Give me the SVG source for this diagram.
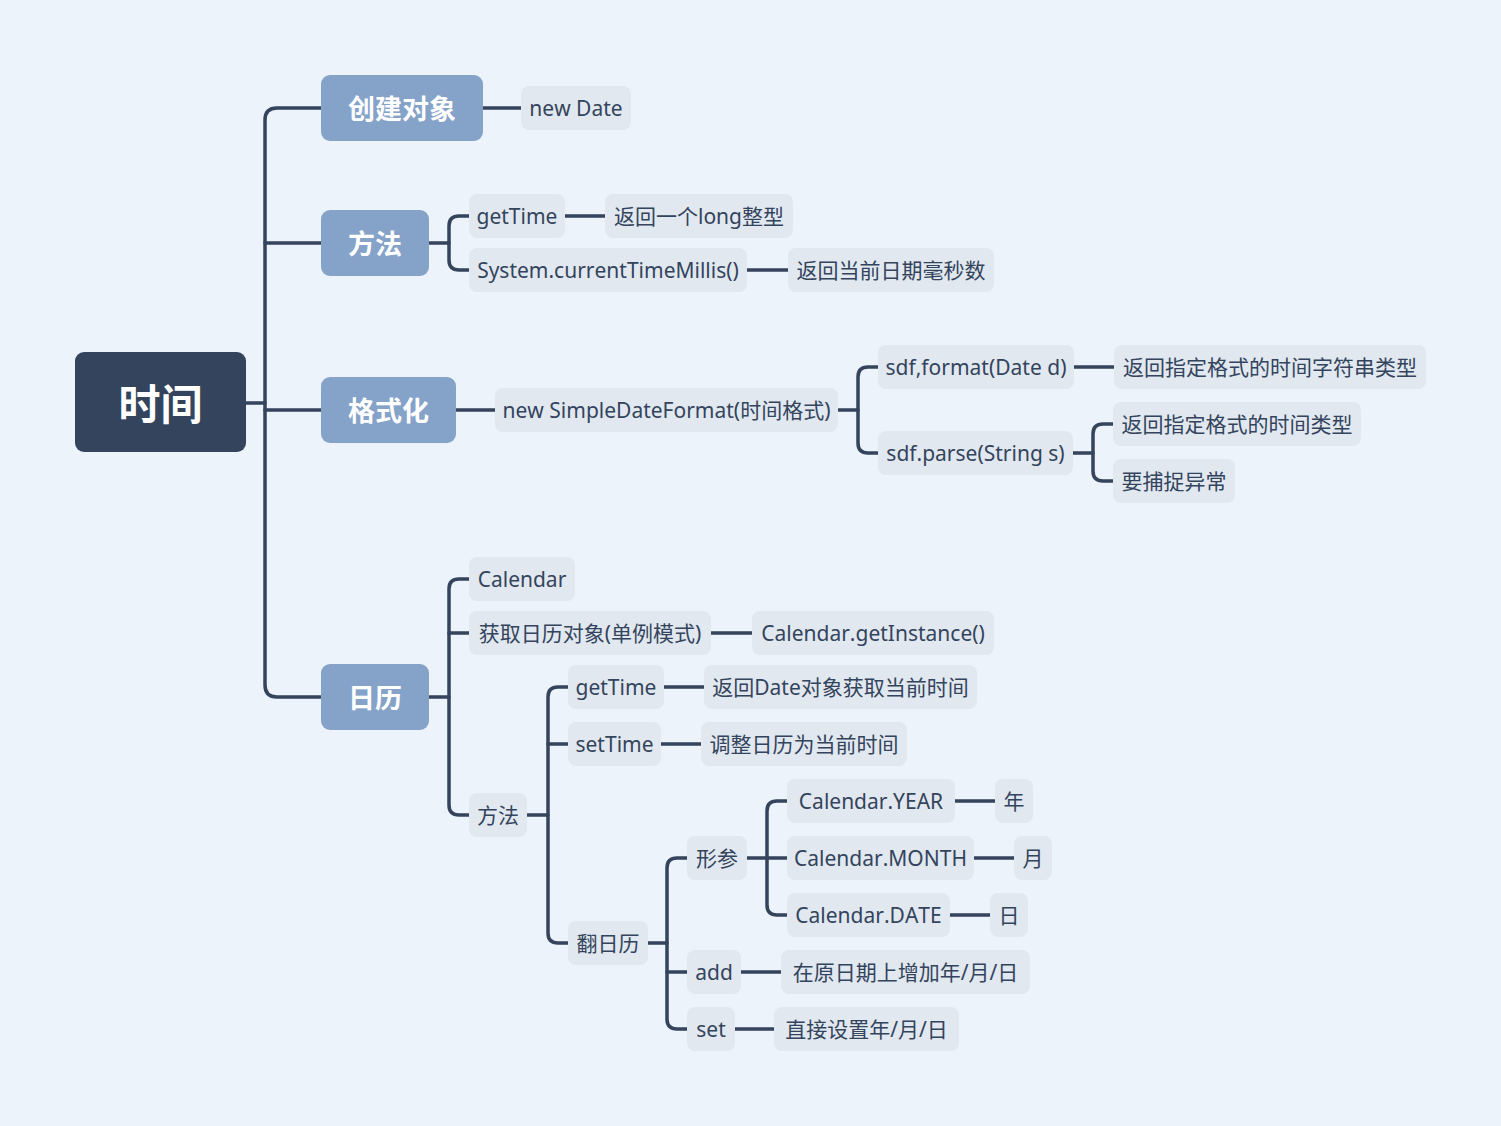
<svg xmlns="http://www.w3.org/2000/svg" width="1501" height="1126" viewBox="0 0 1501 1126">
<style>
.bg{fill:#EDF3FA}
.root rect{fill:#34445C}
.root text{fill:#FFFFFF;font:bold 42px "Noto Sans","Noto Sans CJK SC",sans-serif}
.l1 rect{fill:#85A2C9}
.l1 text{fill:#FFFFFF;font:bold 27px "Noto Sans","Noto Sans CJK SC",sans-serif}
.leaf rect{fill:#E1E8F0}
.leaf text{fill:#34445C;font:21px "Noto Sans","Noto Sans CJK SC",sans-serif;font-kerning:none}
text{text-anchor:middle;dominant-baseline:central}
#connectors path{fill:none;stroke:#34445C;stroke-width:3.5;stroke-linecap:round}
</style>
<rect class="bg" x="0" y="0" width="1501" height="1126"/>
<g id="connectors">
<path d="M246,403 H265"/>
<path d="M321,108 H277 Q265,108 265,120 V685 Q265,697 277,697 H321"/>
<path d="M265,243 H321"/>
<path d="M265,410 H321"/>
<path d="M483,108 H521"/>
<path d="M429,243 H449"/>
<path d="M469,216 H459 Q449,216 449,226 V260 Q449,270 459,270 H469"/>
<path d="M565,216 H605"/>
<path d="M747,270 H788"/>
<path d="M456,410 H495"/>
<path d="M838,410 H858"/>
<path d="M878,367 H868 Q858,367 858,377 V443 Q858,453 868,453 H878"/>
<path d="M1074,367 H1114"/>
<path d="M1073,453 H1093"/>
<path d="M1113,424 H1103 Q1093,424 1093,434 V471 Q1093,481 1103,481 H1113"/>
<path d="M429,697 H449"/>
<path d="M469,579 H459 Q449,579 449,589 V805 Q449,815 459,815 H469"/>
<path d="M449,633 H469"/>
<path d="M711,633 H752"/>
<path d="M527,815 H548"/>
<path d="M568,687 H558 Q548,687 548,697 V933 Q548,943 558,943 H568"/>
<path d="M548,744 H568"/>
<path d="M664,687 H704"/>
<path d="M661,744 H701"/>
<path d="M648,943 H667"/>
<path d="M687,858 H677 Q667,858 667,868 V1019 Q667,1029 677,1029 H687"/>
<path d="M667,972 H687"/>
<path d="M747,858 H787"/>
<path d="M787,801 H777 Q767,801 767,811 V905 Q767,915 777,915 H787"/>
<path d="M955,801 H995"/>
<path d="M974,858 H1014"/>
<path d="M950,915 H990"/>
<path d="M741,972 H781"/>
<path d="M735,1029 H774"/>
</g>
<g id="n-root" class="root"><rect x="75" y="352" width="171" height="100" rx="9"/><text x="160.5" y="403">时间</text></g>
<g id="n-create" class="l1"><rect x="321" y="75" width="162" height="66" rx="9"/><text x="402" y="108">创建对象</text></g>
<g id="n-method" class="l1"><rect x="321" y="210" width="108" height="66" rx="9"/><text x="375" y="243">方法</text></g>
<g id="n-format" class="l1"><rect x="321" y="377" width="135" height="66" rx="9"/><text x="388.5" y="410">格式化</text></g>
<g id="n-calendar" class="l1"><rect x="321" y="664" width="108" height="66" rx="9"/><text x="375" y="697">日历</text></g>

<g id="n-newdate" class="leaf"><rect x="521" y="86" width="110" height="44" rx="8"/><text x="576" y="108">new Date</text></g>
<g id="n-gettime1" class="leaf"><rect x="469" y="194" width="96" height="44" rx="8"/><text x="517" y="216">getTime</text></g>
<g id="n-long" class="leaf"><rect x="605" y="194" width="188" height="44" rx="8"/><text x="699" y="216">返回一个long整型</text></g>
<g id="n-sysmillis" class="leaf"><rect x="469" y="248" width="278" height="44" rx="8"/><text x="608" y="270">System.currentTimeMillis()</text></g>
<g id="n-millis" class="leaf"><rect x="788" y="248" width="206" height="44" rx="8"/><text x="891" y="270">返回当前日期毫秒数</text></g>
<g id="n-sdf" class="leaf"><rect x="495" y="388" width="343" height="44" rx="8"/><text x="666.5" y="410">new SimpleDateFormat(时间格式)</text></g>
<g id="n-sdfformat" class="leaf"><rect x="878" y="345" width="196" height="44" rx="8"/><text x="976" y="367">sdf,format(Date d)</text></g>
<g id="n-strtype" class="leaf"><rect x="1114" y="345" width="312" height="44" rx="8"/><text x="1270" y="367">返回指定格式的时间字符串类型</text></g>
<g id="n-sdfparse" class="leaf"><rect x="878" y="431" width="195" height="44" rx="8"/><text x="975.5" y="453">sdf.parse(String s)</text></g>
<g id="n-timetype" class="leaf"><rect x="1113" y="402" width="248" height="44" rx="8"/><text x="1237" y="424">返回指定格式的时间类型</text></g>
<g id="n-catch" class="leaf"><rect x="1113" y="459" width="122" height="44" rx="8"/><text x="1174" y="481">要捕捉异常</text></g>
<g id="n-cal" class="leaf"><rect x="469" y="557" width="106" height="44" rx="8"/><text x="522" y="579">Calendar</text></g>
<g id="n-getcal" class="leaf"><rect x="469" y="611" width="242" height="44" rx="8"/><text x="590" y="633">获取日历对象(单例模式)</text></g>
<g id="n-getinst" class="leaf"><rect x="752" y="611" width="242" height="44" rx="8"/><text x="873" y="633">Calendar.getInstance()</text></g>
<g id="n-method2" class="leaf"><rect x="469" y="793" width="58" height="44" rx="8"/><text x="498" y="815">方法</text></g>
<g id="n-gettime2" class="leaf"><rect x="568" y="665" width="96" height="44" rx="8"/><text x="616" y="687">getTime</text></g>
<g id="n-retdate" class="leaf"><rect x="704" y="665" width="273" height="44" rx="8"/><text x="840.5" y="687">返回Date对象获取当前时间</text></g>
<g id="n-settime" class="leaf"><rect x="568" y="722" width="93" height="44" rx="8"/><text x="614.5" y="744">setTime</text></g>
<g id="n-adjust" class="leaf"><rect x="701" y="722" width="206" height="44" rx="8"/><text x="804" y="744">调整日历为当前时间</text></g>
<g id="n-flip" class="leaf"><rect x="568" y="921" width="80" height="44" rx="8"/><text x="608" y="943">翻日历</text></g>
<g id="n-param" class="leaf"><rect x="687" y="836" width="60" height="44" rx="8"/><text x="717" y="858">形参</text></g>
<g id="n-year" class="leaf"><rect x="787" y="779" width="168" height="44" rx="8"/><text x="871" y="801">Calendar.YEAR</text></g>
<g id="n-y" class="leaf"><rect x="995" y="779" width="38" height="44" rx="8"/><text x="1014" y="801">年</text></g>
<g id="n-month" class="leaf"><rect x="787" y="836" width="187" height="44" rx="8"/><text x="880.5" y="858">Calendar.MONTH</text></g>
<g id="n-m" class="leaf"><rect x="1014" y="836" width="38" height="44" rx="8"/><text x="1033" y="858">月</text></g>
<g id="n-date" class="leaf"><rect x="787" y="893" width="163" height="44" rx="8"/><text x="868.5" y="915">Calendar.DATE</text></g>
<g id="n-d" class="leaf"><rect x="990" y="893" width="38" height="44" rx="8"/><text x="1009" y="915">日</text></g>
<g id="n-add" class="leaf"><rect x="687" y="950" width="54" height="44" rx="8"/><text x="714" y="972">add</text></g>
<g id="n-addtext" class="leaf"><rect x="781" y="950" width="249" height="44" rx="8"/><text x="905.5" y="972">在原日期上增加年/月/日</text></g>
<g id="n-set" class="leaf"><rect x="687" y="1007" width="48" height="44" rx="8"/><text x="711" y="1029">set</text></g>
<g id="n-settext" class="leaf"><rect x="774" y="1007" width="185" height="44" rx="8"/><text x="866.5" y="1029">直接设置年/月/日</text></g>
</svg>
